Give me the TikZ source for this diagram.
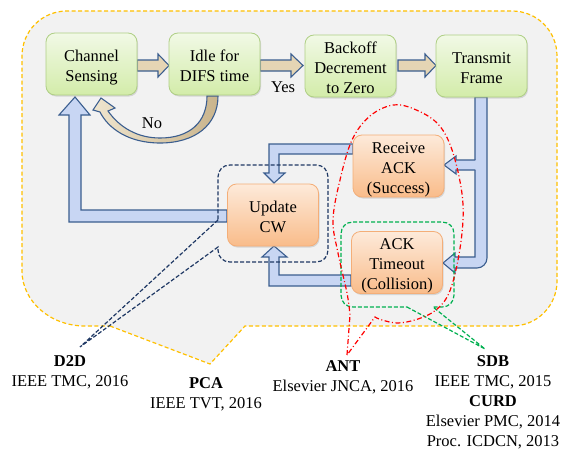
\documentclass[tikz,border=0pt]{standalone}
\usepackage{fontspec}
\setmainfont{Liberation Serif}
\usetikzlibrary{shadows}
\definecolor{outerF}{HTML}{F2F2F2}
\definecolor{outerB}{HTML}{FFC000}
\definecolor{grnT}{HTML}{F1F9E6}
\definecolor{grnBot}{HTML}{D3ECA9}
\definecolor{grnB}{HTML}{AFCF85}
\definecolor{orgT}{HTML}{FDEADA}
\definecolor{orgBot}{HTML}{F9BC8A}
\definecolor{orgB}{HTML}{F4AE78}
\definecolor{bluF}{HTML}{C8D6F3}
\definecolor{arrB}{HTML}{3B5E8F}
\definecolor{tanF}{HTML}{E5D5B4}
\definecolor{tanL}{HTML}{EFE5CE}
\definecolor{tanD}{HTML}{C9B48C}
\definecolor{navyD}{HTML}{1F3864}
\definecolor{grnD}{HTML}{00B050}
\newcommand\bxfnt{\fontsize{16.5}{20}\selectfont}
\newcommand\lbfnt{\fontsize{16.5}{20}\selectfont}
\newcommand\tophold{\rule{0pt}{18pt}}
\newcommand\bothold{\rule[-4pt]{0pt}{4pt}}
\begin{document}
\begin{tikzpicture}[x=1pt,y=-1pt,
  basebox/.style={rounded corners=9pt, minimum width=91pt, minimum height=62pt,
    inner sep=0pt, align=center, font=\bxfnt, line width=0.8pt,
    drop shadow={shadow xshift=1pt, shadow yshift=-1.5pt, opacity=0.25}},
  greenbox/.style={basebox, draw=grnB, top color=grnT, bottom color=grnBot},
  orangebox/.style={basebox, draw=orgB, top color=orgT, bottom color=orgBot},
  bluearrow/.style={draw=arrB, line width=1.1pt, fill=bluF, line join=miter},
  tanarrow/.style={draw=arrB, line width=1.1pt, fill=tanF, line join=miter},
  lbl/.style={align=center, font=\lbfnt, inner sep=0pt},
  navydash/.style={draw=navyD, line width=1.2pt, dash pattern=on 4pt off 2pt},
  greendash/.style={draw=grnD, line width=1.2pt, dash pattern=on 4pt off 2pt},
  reddash/.style={draw=red, line width=1.2pt, dash pattern=on 5pt off 2.5pt on 1pt off 2.5pt},
]
\useasboundingbox (0,0) rectangle (572,452);

% outer callout
\draw[fill=outerF, draw=outerB, line width=1.2pt, dash pattern=on 4pt off 2.5pt]
  (110,326) -- (210,364) -- (245,326) -- (512,326)
  .. controls (537,326) and (557,306) .. (557,281) -- (557,56)
  .. controls (557,31) and (537,11) .. (512,11) -- (67,11)
  .. controls (42,11) and (22,31) .. (22,56) -- (22,271)
  .. controls (22,301) and (50,326) .. (85,326) -- cycle;

% tan arrows between top boxes
\draw[tanarrow] (137,60) -- (158,60) -- (158,54) -- (169,65.5) -- (158,77) -- (158,71) -- (137,71) -- cycle;
\draw[tanarrow] (260,60) -- (291,60) -- (291,54) -- (303,65.5) -- (291,77) -- (291,71) -- (260,71) -- cycle;
\draw[tanarrow] (398,60) -- (425,60) -- (425,54) -- (436,65.5) -- (425,77) -- (425,71) -- (398,71) -- cycle;

% curved "No" arrow
\draw[draw=arrB, line width=1.1pt, left color=tanL, right color=tanD, line join=miter]
  (218,96) .. controls (218,125) and (195,143) .. (160,143)
  .. controls (128,143) and (108,128) .. (100,112)
  -- (93,110) -- (101,98) -- (115,108) -- (108,111)
  .. controls (120,128) and (138,138) .. (160,138)
  .. controls (190,138) and (207,122) .. (207,96) -- cycle;

% blue arrows
\draw[bluearrow] (227,210) -- (81,210) -- (81,115) -- (90,115) -- (75,97) -- (59,115) -- (69,115) -- (69,222) -- (227,222) -- cycle;
\draw[bluearrow] (353,144) -- (269,144) -- (269,173) -- (264,173) -- (274,183) -- (285,173) -- (279,173) -- (279,154) -- (353,154) -- cycle;
\draw[bluearrow] (351,275) -- (279,275) -- (279,257) -- (287,257) -- (274,246) -- (262,257) -- (269,257) -- (269,286) -- (351,286) -- cycle;
\draw[bluearrow] (475,97) -- (487,97) -- (487,258)
  .. controls (487,263.5) and (482.5,268) .. (477,268)
  -- (455,268) -- (455,273) -- (443,263) -- (455,253) -- (455,257) -- (475,257) -- cycle;
\fill[bluF] (476,160) -- (456,160) -- (456,156) -- (444,165) -- (456,174) -- (456,170) -- (476,170) -- cycle;
\draw[draw=arrB, line width=1.1pt, line join=miter] (475.4,160) -- (456,160) -- (456,156) -- (444,165) -- (456,174) -- (456,170) -- (475.4,170);

% boxes
\node[greenbox] (cs) at (91.5,64) {\tophold Channel\\Sensing\bothold};
\node[greenbox] (idle) at (214.5,64) {\tophold Idle for\\DIFS time\bothold};
\node[greenbox] (bo) at (350.5,66) {\tophold Backoff\\Decrement\\to Zero\bothold};
\node[greenbox] (tf) at (481.5,66) {\tophold Transmit\\Frame\bothold};
\node[orangebox] (ra) at (398.5,166) {\tophold Receive\\ACK\\(Success)\bothold};
\node[orangebox] (at) at (397,262.5) {\tophold ACK\\Timeout\\(Collision)\bothold};
\node[orangebox] (cw) at (273,215) {\tophold Update\\CW\bothold};

\node[lbl] (yes) at (283,87) {Yes};
\node[lbl] (no) at (152,123) {No};

% navy callout around Update CW
\draw[navydash] (218,220) -- (80,347) -- (218,247) -- (218,250)
  .. controls (218,257) and (223,262) .. (230,262) -- (316,262)
  .. controls (323,262) and (328,257) .. (328,250) -- (328,177)
  .. controls (328,170) and (323,165) .. (316,165) -- (230,165)
  .. controls (223,165) and (218,170) .. (218,177) -- cycle;

% green callout around ACK Timeout
\draw[greendash] (407,307) -- (485,349) -- (433,307) -- (442,307)
  .. controls (449,307) and (454,302) .. (454,295) -- (454,234)
  .. controls (454,227) and (449,222) .. (442,222) -- (353,222)
  .. controls (346,222) and (341,227) .. (341,234) -- (341,295)
  .. controls (341,302) and (346,307) .. (353,307) -- cycle;

% red dash-dot callout
\draw[reddash] (347,355) -- plot[smooth, tension=0.6] coordinates {
  (350,315) (347,293) (338,253) (333,220) (340,180) (352,140) (370,116)
  (393,105) (414,109) (437,123) (451,147) (461,187) (463,220) (458,260)
  (449,293) (436,310) (418,319) (398,323) (382,320) (375,317)} -- cycle;

% labels
\node[lbl] (d2d) at (70,369) {\tophold\textbf{D2D}\\IEEE TMC, 2016\bothold};
\node[lbl] (pca) at (206,391) {\tophold\textbf{PCA}\\IEEE TVT, 2016\bothold};
\node[lbl] (ant) at (343,374.5) {\tophold\textbf{ANT}\\Elsevier JNCA, 2016\bothold};
\node[lbl] (sdb) at (493,399.5) {\tophold\textbf{SDB}\\IEEE TMC, 2015\\\textbf{CURD}\\Elsevier PMC, 2014\\Proc. ICDCN, 2013\bothold};
\end{tikzpicture}
\end{document}
